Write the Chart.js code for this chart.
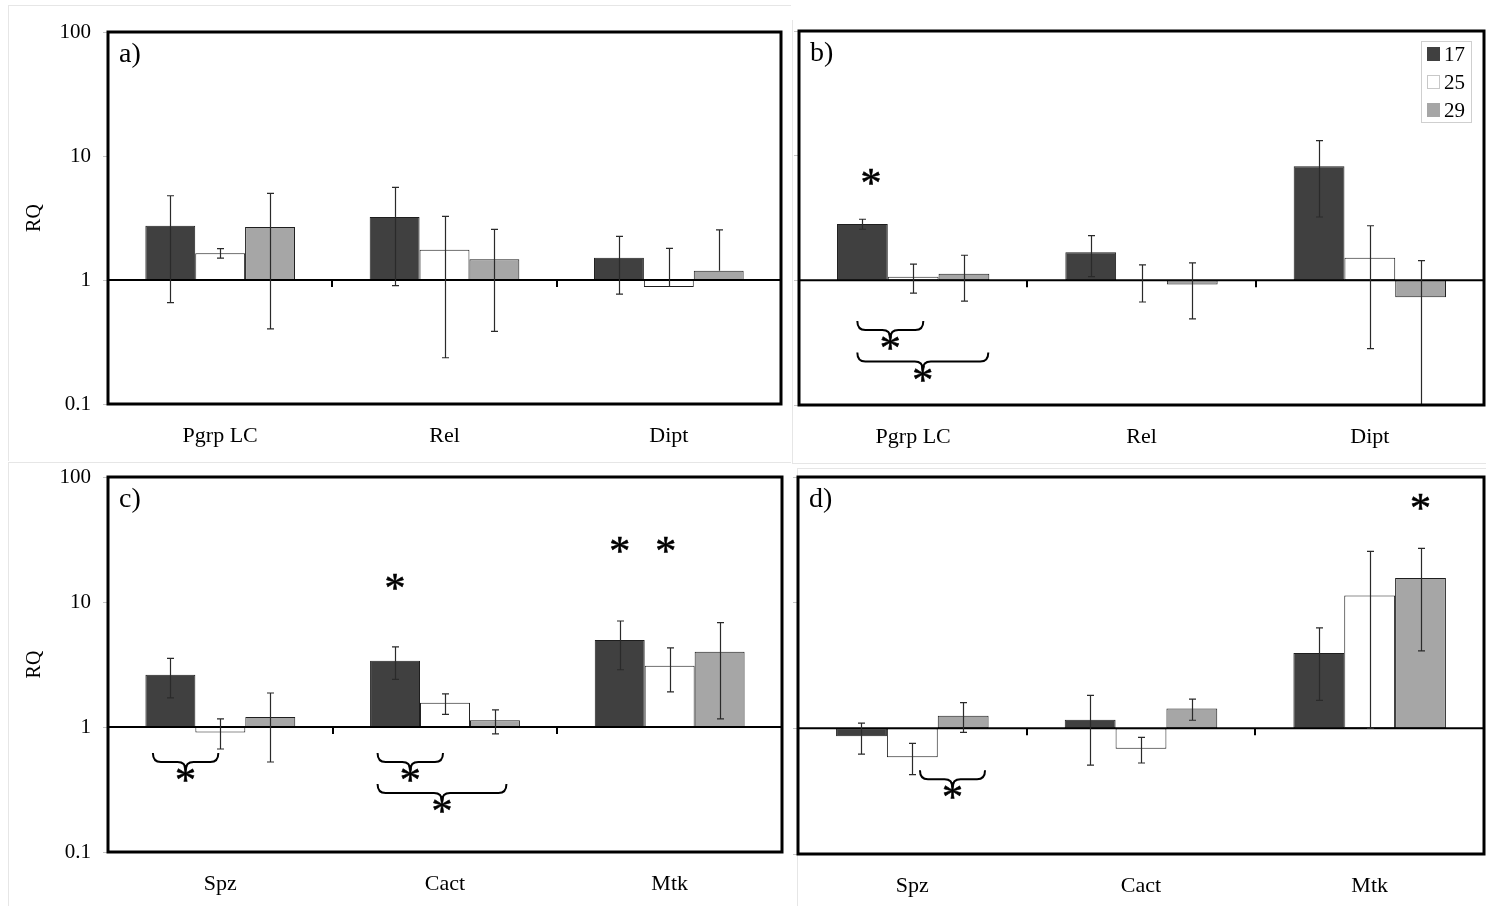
<!DOCTYPE html>
<html>
<head>
<meta charset="utf-8">
<script src="https://cdn.jsdelivr.net/npm/chart.js@4.4.0/dist/chart.umd.min.js"></script>
<style>
  html, body { margin: 0; padding: 0; background: #fff; }
  body { width: 1486px; height: 906px; position: relative; overflow: hidden; }
  canvas { position: absolute; }
  .frame { position: absolute; border: 0 solid #e6e6e6; }
</style>
</head>
<body>
<div class="frame" style="left:8px;top:5px;width:782px;height:455px;border-left-width:1px;border-top-width:1px;"></div>
<div class="frame" style="left:792px;top:20px;width:694px;height:443px;border-left-width:1px;border-bottom-width:1px;"></div>
<div class="frame" style="left:8px;top:462px;width:782px;height:444px;border-left-width:1px;border-top-width:1px;"></div>
<div class="frame" style="left:797px;top:468px;width:689px;height:438px;border-left-width:1px;border-top-width:1px;"></div>

<canvas id="pa" width="790" height="460" style="left:0;top:0"></canvas>
<canvas id="pb" width="696" height="460" style="left:790px;top:0"></canvas>
<canvas id="pc" width="790" height="466" style="left:0;top:440px"></canvas>
<canvas id="pd" width="696" height="466" style="left:790px;top:440px"></canvas>

<script>
// Temperature groups (legend) and gene categories
const temps = ['17', '25', '29'];
const genesTop = ['Pgrp LC', 'Rel', 'Dipt'];
const genesBottom = ['Spz', 'Cact', 'Mtk'];

// Y axis ticks (log scale)
const rqTickValues = [0.1, 1, 10, 100];
const rqTickLabels = ['0.1', '1', '10', '100'];

// a) relative quantity per temperature, with upper / lower error limits
const a17 = [2.74, 3.22, 1.51];
const a25 = [1.64, 1.75, 0.88];
const a29 = [2.68, 1.47, 1.19];
const a17Hi = [4.78, 5.59, 2.25];
const a25Hi = [1.79, 3.26, 1.80];
const a29Hi = [4.99, 2.56, 2.54];
const a17Lo = [0.656, 0.90, 0.77];
const a25Lo = [1.50, 0.236, null];
const a29Lo = [0.403, 0.385, null];

// b)
const b17 = [2.83, 1.68, 8.24];
const b25 = [1.07, 0.99, 1.52];
const b29 = [1.13, 0.925, 0.73];
const b17Hi = [3.09, 2.28, 13.2];
const b25Hi = [1.35, 1.33, 2.74];
const b29Hi = [1.59, 1.38, 1.44];
const b17Lo = [2.57, 1.07, 3.22];
const b25Lo = [0.79, 0.67, 0.283];
const b29Lo = [0.68, 0.49, 0.1];

// c)
const c17 = [2.62, 3.39, 4.97];
const c25 = [0.905, 1.56, 3.09];
const c29 = [1.20, 1.13, 4.0];
const c17Hi = [3.54, 4.37, 7.05];
const c25Hi = [1.16, 1.84, 4.29];
const c29Hi = [1.87, 1.37, 6.83];
const c17Lo = [1.71, 2.40, 2.87];
const c25Lo = [0.667, 1.26, 1.91];
const c29Lo = [0.525, 0.88, 1.16];

// d)
const d17 = [0.863, 1.17, 3.98];
const d25 = [0.59, 0.688, 11.4];
const d29 = [1.26, 1.44, 15.7];
const d17Hi = [1.10, 1.83, 6.31];
const d25Hi = [0.759, 0.847, 25.6];
const d29Hi = [1.6, 1.71, 27.0];
const d17Lo = [0.624, 0.51, 1.67];
const d25Lo = [0.428, 0.53, 1.0];
const d29Lo = [0.93, 1.16, 4.13];

// Significance marks: cat = gene index, at = position inside the bar group
// (0 = left edge, 3 = right edge, in bar widths), rq = height on the RQ axis
const bStars = [{ cat: 0, at: 0.67, rq: 6.8 }];
const cStars = [{ cat: 1, at: 0.5, rq: 14.5 }, { cat: 2, at: 0.5, rq: 28.7 }, { cat: 2, at: 1.42, rq: 28.7 }];
const dStars = [{ cat: 2, at: 2.5, rq: 62.8 }];
const bBraces = [{ cat: 0, from: 0.4, to: 1.7, rq: 0.399 }, { cat: 0, from: 0.4, to: 2.98, rq: 0.223 }];
const cBraces = [{ cat: 0, from: 0.15, to: 1.46, rq: 0.525 }, { cat: 1, from: 0.15, to: 1.46, rq: 0.525 }, { cat: 1, from: 0.15, to: 2.73, rq: 0.296 }];
const dBraces = [{ cat: 0, from: 1.65, to: 2.93, rq: 0.394 }];

const SERIF = '"Liberation Serif", "Times New Roman", serif';
const fills = ['#404040', '#ffffff', '#a6a6a6'];

function drawStar(ctx, x, y) {
  ctx.save();
  ctx.font = '42px ' + SERIF;
  ctx.fillStyle = '#000';
  ctx.strokeStyle = '#000';
  ctx.lineWidth = 0.6;
  ctx.textAlign = 'center';
  ctx.textBaseline = 'alphabetic';
  const m = ctx.measureText('*');
  const yb = y + (m.actualBoundingBoxAscent - m.actualBoundingBoxDescent) / 2;
  ctx.fillText('*', x, yb);
  ctx.strokeText('*', x, yb);
  ctx.restore();
}

function drawBrace(ctx, x1, x2, y) {
  const xm = (x1 + x2) / 2, r = 8, tip = 9, pt = 8;
  ctx.save();
  ctx.strokeStyle = '#000';
  ctx.lineWidth = 2;
  ctx.beginPath();
  ctx.moveTo(x1, y - tip);
  ctx.quadraticCurveTo(x1, y, x1 + r, y);
  ctx.lineTo(xm - r, y);
  ctx.quadraticCurveTo(xm, y, xm, y + pt);
  ctx.quadraticCurveTo(xm, y, xm + r, y);
  ctx.lineTo(x2 - r, y);
  ctx.quadraticCurveTo(x2, y, x2, y - tip);
  ctx.stroke();
  ctx.restore();
}

const decor = {
  id: 'decor',
  afterDatasetsDraw(chart) {
    const p = chart.options.plugins.decor;
    const ctx = chart.ctx, ca = chart.chartArea;
    const ys = chart.scales.y, xs = chart.scales.x;
    const y1 = ys.getPixelForValue(1);

    // reference line at RQ = 1
    ctx.save();
    ctx.strokeStyle = '#000';
    ctx.lineWidth = 2;
    ctx.beginPath();
    ctx.moveTo(ca.left, y1);
    ctx.lineTo(ca.right, y1);
    ctx.stroke();
    // category separators hanging from the line
    for (let i = 0; i < chart.data.labels.length - 1; i++) {
      const xb = Math.round((xs.getPixelForValue(i) + xs.getPixelForValue(i + 1)) / 2);
      ctx.beginPath();
      ctx.moveTo(xb, y1);
      ctx.lineTo(xb, y1 + 7);
      ctx.stroke();
    }
    ctx.restore();

    // error bars
    ctx.save();
    ctx.beginPath();
    ctx.rect(ca.left, ca.top, ca.right - ca.left, ca.bottom - ca.top);
    ctx.clip();
    ctx.strokeStyle = '#2a2a2a';
    ctx.lineWidth = 1.2;
    p.errors.forEach((e, d) => {
      chart.getDatasetMeta(d).data.forEach((bar, i) => {
        const x = Math.round(bar.x) + 0.5;
        const top = ys.getPixelForValue(e.hi[i]);
        const lo = e.lo[i];
        const bot = lo == null ? ys.getPixelForValue(chart.data.datasets[d].data[i][1]) : ys.getPixelForValue(lo);
        ctx.beginPath();
        ctx.moveTo(x, top);
        ctx.lineTo(x, bot);
        ctx.moveTo(x - 3.5, top);
        ctx.lineTo(x + 3.5, top);
        if (lo != null) {
          ctx.moveTo(x - 3.5, bot);
          ctx.lineTo(x + 3.5, bot);
        }
        ctx.stroke();
      });
    });
    ctx.restore();

    // plot frame
    ctx.save();
    ctx.strokeStyle = '#000';
    ctx.lineWidth = 3;
    ctx.strokeRect(ca.left, ca.top, ca.right - ca.left, ca.bottom - ca.top);
    ctx.restore();

    // significance marks
    const m0 = chart.getDatasetMeta(0).data;
    const groupX = (cat, at) => {
      const b = m0[cat];
      return b.x - b.width / 2 + at * b.width;
    };
    (p.stars || []).forEach(s => drawStar(ctx, groupX(s.cat, s.at), ys.getPixelForValue(s.rq)));
    (p.braces || []).forEach(b => {
      const x1 = groupX(b.cat, b.from), x2 = groupX(b.cat, b.to);
      const y = ys.getPixelForValue(b.rq);
      drawBrace(ctx, x1, x2, y);
      drawStar(ctx, (x1 + x2) / 2, y + 12);
    });

    // panel letter
    ctx.save();
    ctx.font = '28px ' + SERIF;
    ctx.fillStyle = '#000';
    ctx.textBaseline = 'alphabetic';
    ctx.fillText(p.letter, ca.left + 11, ca.top + 30);
    ctx.restore();

    // legend box
    if (p.legend) {
      const bw = 50, bh = 81;
      const bx = ca.right - 13 - bw, by = ca.top + 10;
      ctx.save();
      ctx.fillStyle = '#fff';
      ctx.fillRect(bx, by, bw, bh);
      ctx.strokeStyle = '#cfcfcf';
      ctx.lineWidth = 1;
      ctx.strokeRect(bx + 0.5, by + 0.5, bw, bh);
      ctx.font = '21px ' + SERIF;
      ctx.textBaseline = 'middle';
      chart.data.datasets.forEach((ds, k) => {
        const cy = by + 13 + k * 28;
        ctx.fillStyle = ds.backgroundColor;
        ctx.fillRect(bx + 6, cy - 7, 13, 14);
        if (k === 1) {
          ctx.strokeStyle = '#c8c8c8';
          ctx.strokeRect(bx + 6.5, cy - 6.5, 12, 13);
        }
        ctx.fillStyle = '#000';
        ctx.fillText(ds.label, bx + 23, cy + 1);
      });
      ctx.restore();
    }
  }
};

function makePanel(id, cats, series, errors, cfg) {
  const datasets = series.map((vals, k) => ({
    label: temps[k],
    data: vals.map(v => [1, v]),
    backgroundColor: fills[k],
    borderColor: '#1e1e1e',
    borderWidth: 1,
    borderSkipped: false,
    categoryPercentage: 0.667,
    barPercentage: 1.0
  }));
  return new Chart(document.getElementById(id), {
    type: 'bar',
    data: { labels: cats, datasets },
    plugins: [decor],
    options: {
      responsive: false,
      animation: false,
      devicePixelRatio: 1,
      layout: { padding: { left: 0, right: cfg.padRight, top: cfg.padTop, bottom: 0 } },
      plugins: {
        legend: { display: false },
        tooltip: { enabled: false },
        decor: { errors, stars: cfg.stars, braces: cfg.braces, letter: cfg.letter, legend: cfg.legend }
      },
      scales: {
        x: {
          grid: { display: false, drawTicks: false },
          border: { display: false },
          ticks: { color: '#000', font: { family: SERIF, size: 22 }, padding: 19, maxRotation: 0 },
          afterFit: s => { s.height = cfg.xHeight; }
        },
        y: {
          type: 'logarithmic',
          min: 0.1,
          max: 100,
          border: { display: false },
          grid: { drawOnChartArea: false, drawTicks: true, tickLength: 5, color: '#c4c4c4' },
          afterBuildTicks: s => { s.ticks = rqTickValues.map(v => ({ value: v })); },
          ticks: {
            display: cfg.showY,
            color: '#000',
            padding: 12,
            font: { family: SERIF, size: 21 },
            callback: (v, i) => rqTickLabels[i]
          },
          title: {
            display: cfg.showY,
            text: 'RQ',
            color: '#000',
            font: { family: SERIF, size: 20 },
            padding: { top: 23, bottom: 0 }
          },
          afterFit: s => { s.width = cfg.yWidth; }
        }
      }
    }
  });
}

makePanel('pa', genesTop, [a17, a25, a29],
  [{ hi: a17Hi, lo: a17Lo }, { hi: a25Hi, lo: a25Lo }, { hi: a29Hi, lo: a29Lo }],
  { letter: 'a)', showY: true, yWidth: 108, padRight: 9, padTop: 32, xHeight: 56 });

makePanel('pb', genesTop, [b17, b25, b29],
  [{ hi: b17Hi, lo: b17Lo }, { hi: b25Hi, lo: b25Lo }, { hi: b29Hi, lo: b29Lo }],
  { letter: 'b)', showY: false, yWidth: 9, padRight: 2, padTop: 31, xHeight: 55, stars: bStars, braces: bBraces, legend: true });

makePanel('pc', genesBottom, [c17, c25, c29],
  [{ hi: c17Hi, lo: c17Lo }, { hi: c25Hi, lo: c25Lo }, { hi: c29Hi, lo: c29Lo }],
  { letter: 'c)', showY: true, yWidth: 108, padRight: 8, padTop: 37, xHeight: 54, stars: cStars, braces: cBraces });

makePanel('pd', genesBottom, [d17, d25, d29],
  [{ hi: d17Hi, lo: d17Lo }, { hi: d25Hi, lo: d25Lo }, { hi: d29Hi, lo: d29Lo }],
  { letter: 'd)', showY: false, yWidth: 8, padRight: 2, padTop: 37, xHeight: 52, stars: dStars, braces: dBraces });
</script>
</body>
</html>
